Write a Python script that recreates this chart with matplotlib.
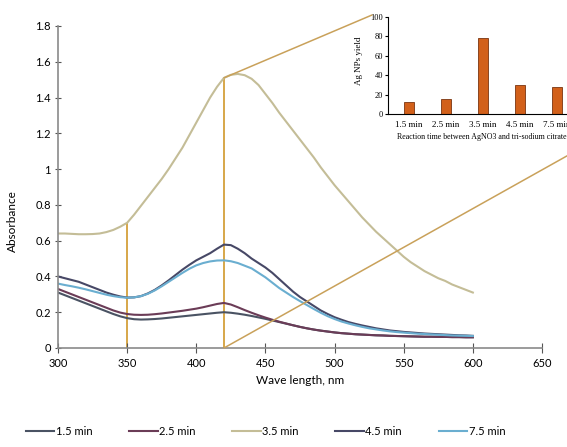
import numpy as np
import matplotlib
matplotlib.use('Agg')
import matplotlib.pyplot as plt
from matplotlib.patches import ConnectionPatch

# wavelength grid, nm (readings every 5 nm)
wavelength = list(range(300, 601, 5))

abs_15 = [0.31, 0.295, 0.28, 0.265, 0.25, 0.235, 0.22, 0.205, 0.19, 0.177, 0.167, 0.161, 0.159, 0.16, 0.162,
          0.165, 0.169, 0.173, 0.177, 0.181, 0.185, 0.189, 0.193, 0.197, 0.20, 0.197, 0.192, 0.186, 0.179,
          0.171, 0.163, 0.154, 0.145, 0.136, 0.127, 0.118, 0.11, 0.103, 0.097, 0.092, 0.087, 0.083, 0.08,
          0.077, 0.075, 0.073, 0.071, 0.07, 0.068, 0.067, 0.066, 0.065, 0.064, 0.063, 0.063, 0.062, 0.062,
          0.061, 0.061, 0.06, 0.06]
abs_25 = [0.33, 0.315, 0.30, 0.285, 0.27, 0.255, 0.24, 0.225, 0.21, 0.198, 0.19, 0.186, 0.185, 0.186, 0.189,
          0.193, 0.198, 0.203, 0.208, 0.214, 0.22, 0.228, 0.237, 0.246, 0.252, 0.243, 0.228, 0.212, 0.197,
          0.183, 0.17, 0.158, 0.147, 0.137, 0.127, 0.118, 0.11, 0.103, 0.097, 0.092, 0.087, 0.083, 0.08,
          0.077, 0.075, 0.073, 0.071, 0.07, 0.068, 0.067, 0.066, 0.065, 0.064, 0.063, 0.063, 0.062, 0.062,
          0.061, 0.061, 0.06, 0.06]
abs_35 = [0.64, 0.64, 0.638, 0.636, 0.636, 0.637, 0.64, 0.648, 0.66, 0.678, 0.70, 0.745, 0.795, 0.845, 0.895,
          0.945, 1.00, 1.06, 1.12, 1.19, 1.26, 1.33, 1.40, 1.46, 1.51, 1.527, 1.532, 1.525, 1.505,
          1.47, 1.42, 1.37, 1.315, 1.265, 1.215, 1.165, 1.115, 1.065, 1.01, 0.96, 0.91, 0.865, 0.82,
          0.775, 0.73, 0.69, 0.65, 0.615, 0.58, 0.545, 0.51, 0.48, 0.455, 0.43, 0.41, 0.39, 0.375,
          0.355, 0.34, 0.325, 0.31]
abs_45 = [0.40, 0.39, 0.38, 0.37, 0.355, 0.34, 0.325, 0.31, 0.298, 0.288, 0.282, 0.283, 0.29, 0.305, 0.325,
          0.35, 0.378, 0.408, 0.438, 0.465, 0.49, 0.51, 0.53, 0.555, 0.578, 0.575, 0.555, 0.53, 0.50,
          0.475, 0.45, 0.42, 0.385, 0.35, 0.315, 0.285, 0.26, 0.235, 0.21, 0.19, 0.172, 0.158, 0.145,
          0.135, 0.126, 0.118, 0.11, 0.104, 0.098, 0.094, 0.09, 0.087, 0.084, 0.081, 0.079, 0.077, 0.075,
          0.073, 0.071, 0.07, 0.068]
abs_75 = [0.36, 0.352, 0.345, 0.337, 0.328, 0.318, 0.308, 0.298, 0.29, 0.284, 0.281, 0.283, 0.29, 0.303, 0.322,
          0.345, 0.37, 0.395, 0.42, 0.443, 0.462, 0.475, 0.484, 0.489, 0.49, 0.485, 0.475, 0.46, 0.445,
          0.42, 0.395, 0.365, 0.335, 0.31, 0.285, 0.262, 0.24, 0.218, 0.197, 0.178, 0.162, 0.148, 0.137,
          0.127, 0.118, 0.11, 0.104, 0.098, 0.093, 0.089, 0.086, 0.083, 0.08, 0.078, 0.076, 0.074, 0.072,
          0.07, 0.069, 0.068, 0.067]

series_labels = ['1.5 min', '2.5 min', '3.5 min', '4.5 min', '7.5 min']
series_colors = ['#4a5363', '#6b3c57', '#c4bd97', '#474866', '#6aaed0']

# inset: yield vs reaction time
inset_labels = ['1.5 min', '2.5 min', '3.5 min', '4.5 min', '7.5 min']
inset_yield = [12, 15, 78, 30, 28]

# marked wavelengths
mark_x = [350, 420]
mark_y = [0.70, 1.51]

plt.rcParams['font.family'] = ['Lato', 'DejaVu Sans']

fig = plt.figure(figsize=(5.67, 4.47), dpi=100)
ax = fig.add_axes([58/567, 1-348/447, 484/567, 322/447])

for y, lab, c in zip([abs_15, abs_25, abs_35, abs_45, abs_75], series_labels, series_colors):
    ax.plot(wavelength, y, color=c, lw=1.5, label=lab)

ax.vlines(mark_x, 0, mark_y, color='#d4a03c', lw=1.3, zorder=1)

ax.set_xlim(300, 650)
ax.set_ylim(0, 1.8)
ax.set_xticks(np.arange(300, 651, 50))
ax.set_yticks([0, 0.2, 0.4, 0.6, 0.8, 1, 1.2, 1.4, 1.6, 1.8])
ax.set_yticklabels(['0', '0.2', '0.4', '0.6', '0.8', '1', '1.2', '1.4', '1.6', '1.8'])
for s in ['top', 'right']:
    ax.spines[s].set_visible(False)
for s in ['left', 'bottom']:
    ax.spines[s].set_color('#8a8a8a')
    ax.spines[s].set_linewidth(1.2)
ax.tick_params(axis='x', direction='inout', length=7, color='#555555', labelsize=8, pad=4)
ax.tick_params(axis='y', direction='inout', length=4, color='#555555', labelsize=8, pad=3)
ax.set_xlabel('Wave length, nm', fontsize=8.5, labelpad=4)
ax.set_ylabel('Absorbance', fontsize=8.5)
ax.yaxis.set_label_coords(-0.083, 0.394)

# inset bar chart
ins = fig.add_axes([388/567, 1-114/447, 252/567, 97/447])
pos = np.arange(len(inset_labels))
ins.bar(pos, inset_yield, width=0.25, color='#d2601a', edgecolor='#7a3510', lw=0.6)
ins.set_xlim(-0.57, 6.24)
ins.set_ylim(0, 100)
ins.set_yticks([0, 20, 40, 60, 80, 100])
ins.set_xticks(pos)
ins.set_xticklabels(inset_labels, family='Liberation Serif', fontsize=6.5)
for t in ins.get_yticklabels():
    t.set_family('Liberation Serif')
ins.tick_params(axis='y', labelsize=6, length=2, pad=1.5)
ins.tick_params(axis='x', length=0, pad=5)
ins.set_ylabel('Ag NPs yield', family='Liberation Serif', fontsize=6.5)
ins.yaxis.set_label_coords(-0.1, 0.55)
ins.set_xlabel('Reaction time between AgNO3 and tri-sodium citrate', family='Liberation Serif',
               fontsize=5.7)
ins.xaxis.set_label_coords(0.036, -0.235)
ins.xaxis.label.set_ha('left')
ins.xaxis.label.set_va('center')
for s in ['top', 'right']:
    ins.spines[s].set_visible(False)
ins.patch.set_alpha(0)

# zoom connectors to the inset chart box corners
con1 = ConnectionPatch(xyA=(420, 1.51), coordsA=ax.transData, xyB=(372/567, 1-15/447),
                       coordsB=fig.transFigure, color='#c9a15a', lw=1.1)
con2 = ConnectionPatch(xyA=(420, 0), coordsA=ax.transData, xyB=(640/567, 1-115/447),
                       coordsB=fig.transFigure, color='#c9a15a', lw=1.1)
fig.add_artist(con1)
fig.add_artist(con2)

fig.legend(loc='lower center', bbox_to_anchor=(0.468, 0.0), ncol=5, frameon=False, fontsize=8,
           handlelength=2.6, handletextpad=0.1, columnspacing=3.3)

fig.savefig('out.png', dpi=100)
